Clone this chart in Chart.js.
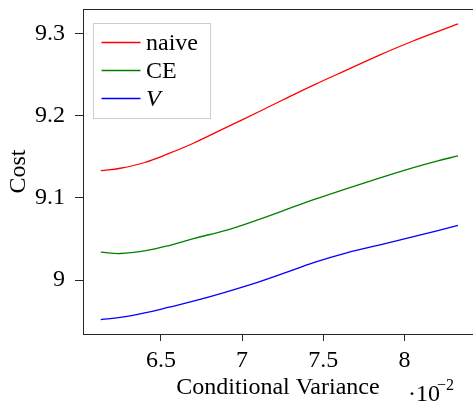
<!DOCTYPE html>
<html>
<head>
<meta charset="UTF-8">
<title>Cost vs Conditional Variance</title>
<style>
  html,body{margin:0;padding:0;background:#fff;overflow:hidden;}
  #c{display:block;}
</style>
<script src="https://cdn.jsdelivr.net/npm/chart.js"></script>
</head>
<body>
<canvas id="c" width="473" height="402"></canvas>
<script>
// data (x in units of 10^-2)
const xValues = [6.13, 6.25, 6.4, 6.55, 6.7, 6.9, 7.1, 7.25, 7.45, 7.65, 7.85, 8.05, 8.2, 8.33];
const naiveCost = [9.133, 9.136, 9.143, 9.154, 9.1664, 9.1854, 9.2044, 9.219, 9.238, 9.256, 9.274, 9.2905, 9.302, 9.3115];
const ceCost = [9.034, 9.0323, 9.0355, 9.042, 9.0505, 9.0605, 9.0735, 9.0842, 9.0985, 9.1115, 9.1243, 9.1365, 9.1448, 9.151];
const vCost = [8.952, 8.9545, 8.960, 8.967, 8.9743, 8.9854, 8.9975, 9.0078, 9.0218, 9.0335, 9.0428, 9.0525, 9.0598, 9.0665];
const seriesLabels = ['naive', 'CE', 'V'];
const seriesColors = ['#ff0000', '#008000', '#0000ff'];
const labelStyles = ['normal', 'normal', 'italic'];
const xTicks = [6.5, 7, 7.5, 8];
const yTicks = [9, 9.1, 9.2, 9.3];

const FONT = '"Liberation Serif", "DejaVu Serif", serif';
const FS = 24;
const pts = ys => xValues.map((x, i) => ({x: x, y: ys[i]}));

// legend box, top frame line and the ·10^-2 factor
const extras = {
  id: 'extras',
  afterDraw(chart) {
    const ctx = chart.ctx, a = chart.chartArea;
    ctx.save();
    ctx.strokeStyle = '#262626';
    ctx.lineWidth = 1;
    ctx.beginPath();
    ctx.moveTo(a.left, a.top + 0.5);
    ctx.lineTo(a.right, a.top + 0.5);
    ctx.stroke();

    // legend
    ctx.fillStyle = '#fff';
    ctx.strokeStyle = '#cccccc';
    ctx.fillRect(93.5, 23.5, 117, 95);
    ctx.strokeRect(93.5, 23.5, 117, 95);
    chart.data.datasets.forEach((ds, i) => {
      const y = 42.5 + 28 * i;
      ctx.strokeStyle = ds.borderColor;
      ctx.lineWidth = 1.3;
      ctx.beginPath();
      ctx.moveTo(101.5, y);
      ctx.lineTo(140.5, y);
      ctx.stroke();
      ctx.fillStyle = '#000';
      ctx.font = labelStyles[i] + ' ' + FS + 'px ' + FONT;
      ctx.textBaseline = 'middle';
      ctx.textAlign = 'left';
      ctx.fillText(ds.label, 146, y + 1);
    });

    // scale factor
    ctx.fillStyle = '#000';
    ctx.textBaseline = 'alphabetic';
    ctx.font = FS + 'px ' + FONT;
    ctx.fillText('\u00B710', 408, 401);
    ctx.font = '16px ' + FONT;
    ctx.fillText('\u22122', 437, 390);
    ctx.restore();
  }
};

new Chart(document.getElementById('c'), {
  type: 'line',
  data: {
    datasets: [naiveCost, ceCost, vCost].map((ys, i) => ({
      label: seriesLabels[i],
      data: pts(ys),
      borderColor: seriesColors[i],
      backgroundColor: seriesColors[i],
      borderWidth: 1.3,
      pointRadius: 0,
      fill: false,
      tension: 0.4
    }))
  },
  options: {
    responsive: false,
    animation: false,
    layout: {padding: {top: 9, left: 0, right: 0, bottom: 0}},
    plugins: {legend: {display: false}, tooltip: {enabled: false}},
    scales: {
      x: {
        type: 'linear',
        min: 6.0203,
        max: 8.4225,
        afterBuildTicks: s => { s.ticks = xTicks.map(v => ({value: v})); },
        afterFit: s => { s.height = 68; s.paddingLeft = 0; s.paddingRight = 0; },
        grid: {drawOnChartArea: false, drawTicks: true, tickLength: 7, color: '#262626'},
        border: {display: true, color: '#262626', width: 1},
        ticks: {color: '#000', font: {family: FONT, size: FS}, padding: 5, maxRotation: 0,
                callback: v => String(+v.toFixed(2))},
        title: {display: true, text: 'Conditional Variance', color: '#000',
                font: {family: FONT, size: FS}, padding: {top: 0, bottom: 0}}
      },
      y: {
        min: 8.9344,
        max: 9.3297,
        afterBuildTicks: s => { s.ticks = yTicks.map(v => ({value: v})); },
        afterFit: s => { s.width = 83; s.paddingTop = 0; s.paddingBottom = 0; },
        grid: {drawOnChartArea: false, drawTicks: true, tickLength: 8, color: '#262626'},
        border: {display: true, color: '#262626', width: 1},
        ticks: {color: '#000', font: {family: FONT, size: FS}, padding: 10,
                callback: v => String(+v.toFixed(2))},
        title: {display: true, text: 'Cost', color: '#000',
                font: {family: FONT, size: FS}, padding: {top: 4, bottom: 4}}
      }
    }
  },
  plugins: [extras]
});
</script>
</body>
</html>
